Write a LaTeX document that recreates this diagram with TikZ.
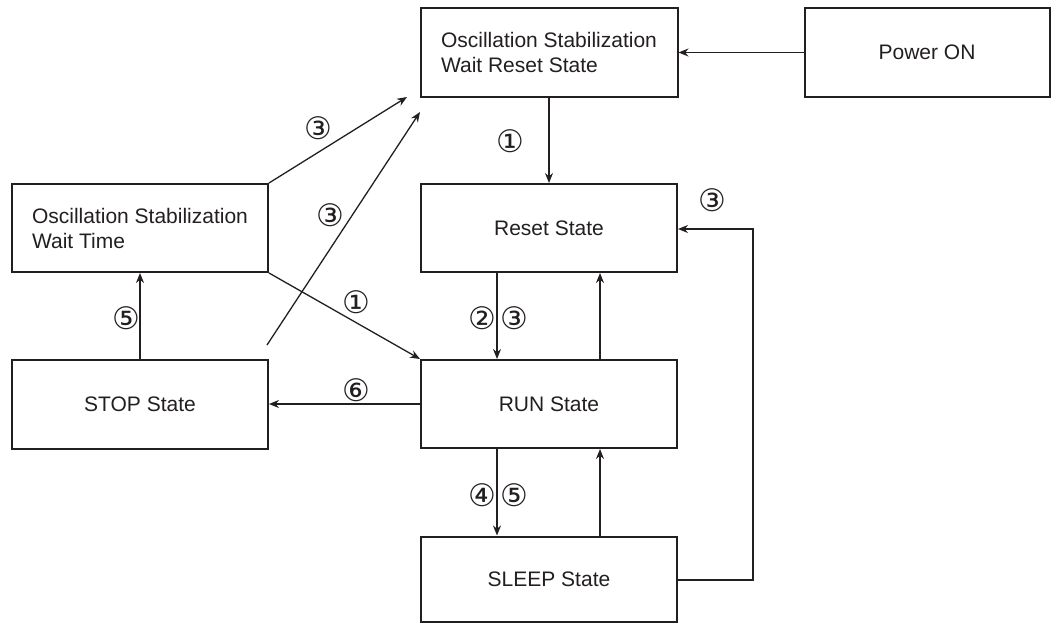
\documentclass[tikz,border=0pt]{standalone}
\usepackage{fontspec}
\setmainfont{Liberation Sans}
\newfontfamily\circfont{DejaVu Sans}
\usetikzlibrary{arrows.meta}
\definecolor{ink}{HTML}{231F20}
\begin{document}
\begin{tikzpicture}[x=1pt,y=-1pt,
  statebox/.style={draw=ink, line width=2pt, text=ink, inner sep=0pt, font=\fontsize{21}{25}\selectfont, align=left},
  conn/.style={draw=ink, line width=1.3pt, -{Stealth[length=10pt,width=8pt]}},
  lab/.style={text=ink, font=\circfont\fontsize{31}{33}\selectfont, inner sep=0pt}]
\useasboundingbox (0,0) rectangle (1052,623);
% boxes
\node[statebox, minimum width=257pt, minimum height=89pt] (oswr) at (549,52.5) {Oscillation Stabilization\\Wait Reset State};
\node[statebox, minimum width=245pt, minimum height=89pt] (pwr) at (927,52.5) {Power ON};
\node[statebox, minimum width=256pt, minimum height=88pt] (reset) at (549,228) {Reset State};
\node[statebox, minimum width=256pt, minimum height=88pt] (oswt) at (140,228) {Oscillation Stabilization\\Wait Time};
\node[statebox, minimum width=256pt, minimum height=89pt] (stop) at (140,404) {STOP State};
\node[statebox, minimum width=256pt, minimum height=88pt] (run) at (549,404) {RUN State};
\node[statebox, minimum width=256pt, minimum height=85pt] (sleep) at (549,579) {SLEEP State};
% coordinates for free ends
\coordinate (t1) at (407,97);
\coordinate (t2) at (420,112);
\coordinate (s2) at (267,345);
\coordinate (loopA) at (753,580);
\coordinate (loopB) at (753,229);
% connectors
\draw[conn] (pwr.west) -- (oswr.east);
\draw[conn] (oswr.south) -- (reset.north);
\draw[conn] (oswt.north east) -- (t1);
\draw[conn] (s2) -- (t2);
\draw[conn] (oswt.south east) -- (run.north west);
\draw[conn] (stop.north) -- (oswt.south);
\draw[conn] (run.west) -- (stop.east);
\draw[conn] (reset.south -| 497,0) -- (run.north -| 497,0);
\draw[conn] (run.north -| 600,0) -- (reset.south -| 600,0);
\draw[conn] (run.south -| 497,0) -- (sleep.north -| 497,0);
\draw[conn] (sleep.north -| 600,0) -- (run.south -| 600,0);
\draw[conn] (sleep.east |- loopA) -- (loopA) -- (loopB) -- (reset.east |- loopB);
% labels
\node[lab] (l1) at (510,141) {①};
\node[lab] (l2) at (318,128) {③};
\node[lab] (l3) at (330,215) {③};
\node[lab] (l4) at (712,200) {③};
\node[lab] (l5) at (356,302) {①};
\node[lab] (l6) at (126,318) {⑤};
\node[lab] (l7) at (482,318) {②};
\node[lab] (l8) at (514,318) {③};
\node[lab] (l9) at (356,390) {⑥};
\node[lab] (l10) at (482,495) {④};
\node[lab] (l11) at (514,495) {⑤};
\end{tikzpicture}
\end{document}
